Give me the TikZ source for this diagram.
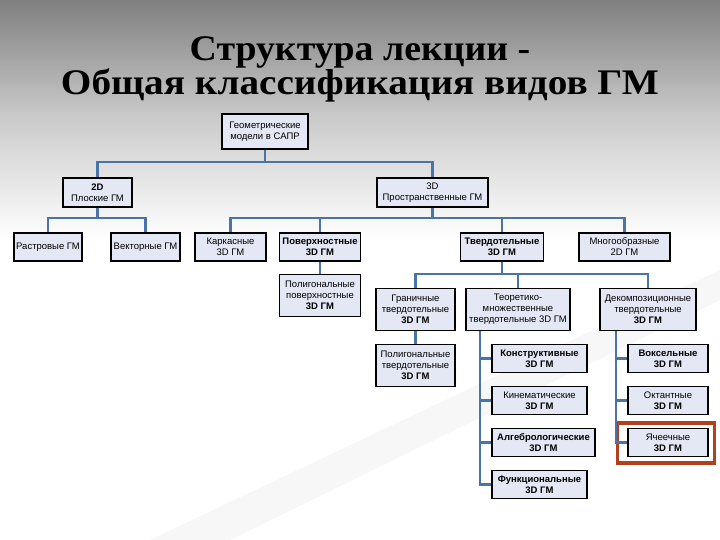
\documentclass[tikz,border=0pt]{standalone}
\usepackage{fontspec}
\setmainfont{Liberation Serif}
\setsansfont{Liberation Sans}
\usetikzlibrary{positioning, calc}
\definecolor{boxfill}{HTML}{E4E8F4}
\definecolor{linkblue}{HTML}{4A74A8}
\definecolor{markred}{HTML}{B0401E}

\begin{document}
\begin{tikzpicture}[
    x=1pt, y=-1pt,
    gm/.style={draw=black, line width=1.3pt, fill=boxfill, align=center,
        inner sep=1pt, font=\sffamily\fontsize{9.5}{11}\selectfont},
    gmbold/.style={gm, font=\sffamily\bfseries\fontsize{9.5}{11}\selectfont},
    gmtwo/.style={minimum height=28pt},
    gmthree/.style={minimum height=42pt},
    link/.style={draw=linkblue, line width=2.4pt},
    redmark/.style={draw=markred, line width=3.5pt},
    ttl/.style={font=\bfseries\fontsize{36}{32}\selectfont, align=center, anchor=base}
]

% =====================================================
% BACKGROUND
% =====================================================
\useasboundingbox (0,0) rectangle (720,540);
\fill[white] (0,0) rectangle (720,540);
\fill[top color=black!50, bottom color=white, middle color=black!20] (0,0) rectangle (720,240);
\fill[black!3] (150,540) -- (720,270) -- (720,300) -- (230,540) -- cycle;

% Title
\node[ttl] (title) at (360,95) {\scalebox{1.05}[1]{Структура лекции -}\\\scalebox{1.09}[1]{Общая классификация видов ГМ}};

% =====================================================
% LEVELS 0 - 1
% =====================================================
\node[gm, minimum width=86pt, minimum height=35pt] (root) at (265,131.5) {Геометрические\\модели в САПР};
\node[gm, minimum width=69pt, minimum height=29pt] (d2) at (97.5,192.5) {\textbf{2D}\\Плоские ГМ};
\node[gm, minimum width=111pt, minimum height=29pt] (d3) at (432.5,192.5) {3D\\Пространственные ГМ};

% =====================================================
% LEVEL 2
% =====================================================
\node[gm, gmtwo, minimum width=68pt] (rast) at (48,247) {Растровые ГМ};
\node[gm, gmtwo, minimum width=69pt] (vect) at (145.5,247) {Векторные ГМ};
\node[gm, gmtwo, minimum width=71pt] (kark) at (230.5,247) {Каркасные\\3D ГМ};
\node[gmbold, gmtwo, minimum width=81pt] (pov) at (320,247) {Поверхностные\\3D ГМ};
\node[gmbold, gmtwo, minimum width=83pt] (tverd) at (502,247) {Твердотельные\\3D ГМ};
\node[gm, gmtwo, minimum width=91pt] (mnog) at (624.5,247) {Многообразные\\2D ГМ};

% =====================================================
% LEVEL 3
% =====================================================
\node[gm, gmthree, minimum width=81pt] (polpov) at (320,295.5) {Полигональные\\поверхностные\\\textbf{3D ГМ}};
\node[gm, gmthree, minimum width=79pt] (gran) at (415.5,309.5) {Граничные\\твердотельные\\\textbf{3D ГМ}};
\node[gm, gmthree, minimum width=104pt] (teor) at (518,309.5) {Теоретико-\\множественные\\твердотельные 3D ГМ};
\node[gm, gmthree, minimum width=96pt] (dekomp) at (648,309.5) {Декомпозиционные\\твердотельные\\\textbf{3D ГМ}};

% =====================================================
% LEVEL 4
% =====================================================
\node[gm, gmthree, minimum width=79pt] (poltv) at (415.5,365.5) {Полигональные\\твердотельные\\\textbf{3D ГМ}};

\node[gmbold, gmtwo, minimum width=95pt] (konstr) at (539.5,358.5) {Конструктивные\\3D ГМ};
\node[gm, gmtwo, minimum width=95pt] (kinem) at (539.5,400.5) {Кинематические\\\textbf{3D ГМ}};
\node[gmbold, gmtwo, minimum width=103pt] (algeb) at (543.5,442.5) {Алгебрологические\\3D ГМ};
\node[gmbold, gmtwo, minimum width=95pt] (func) at (539.5,484.5) {Функциональные\\3D ГМ};

\node[gmbold, gmtwo, minimum width=80pt] (voks) at (668,358.5) {Воксельные\\3D ГМ};
\node[gm, gmtwo, minimum width=80pt] (okt) at (668,400.5) {Октантные\\\textbf{3D ГМ}};
\node[gm, gmtwo, minimum width=80pt] (yach) at (668,442.5) {Ячеечные\\\textbf{3D ГМ}};

% highlighted item
\draw[redmark] ($(yach.north west)+(-10,-5)$) rectangle ($(yach.south east)+(6,6)$);

% =====================================================
% CONNECTORS
% =====================================================
\coordinate (bus0) at (265,162);
\coordinate (bus2d) at (97.5,218);
\coordinate (bus3d) at (432.5,218);
\coordinate (bustv) at (502,274);
\coordinate (teorbus) at (teor.south -| 480,0);
\coordinate (dekbus) at (dekomp.south -| 616,0);

\draw[link] (root.south) -- (bus0) -| (d2.north);
\draw[link] (bus0) -| (d3.north);

\draw[link] (d2.south) -- (bus2d) -| (rast.north);
\draw[link] (bus2d) -| (vect.north);

\draw[link] (d3.south) -- (bus3d) -| (kark.north);
\draw[link] (bus3d) -| (pov.north);
\draw[link] (bus3d) -| (tverd.north);
\draw[link] (bus3d) -| (mnog.north);

\draw[link] (pov.south) -- (polpov.north);

\draw[link] (tverd.south) -- (bustv) -| (gran.north);
\draw[link] (bustv) -| (teor.north);
\draw[link] (bustv) -| (dekomp.north);

\draw[link] (gran.south) -- (poltv.north);

\draw[link] (teorbus) |- (konstr.west);
\draw[link] (teorbus) |- (kinem.west);
\draw[link] (teorbus) |- (algeb.west);
\draw[link] (teorbus) |- (func.west);

\draw[link] (dekbus) |- (voks.west);
\draw[link] (dekbus) |- (okt.west);
\draw[link] (dekbus) |- (yach.west);

\end{tikzpicture}
\end{document}
